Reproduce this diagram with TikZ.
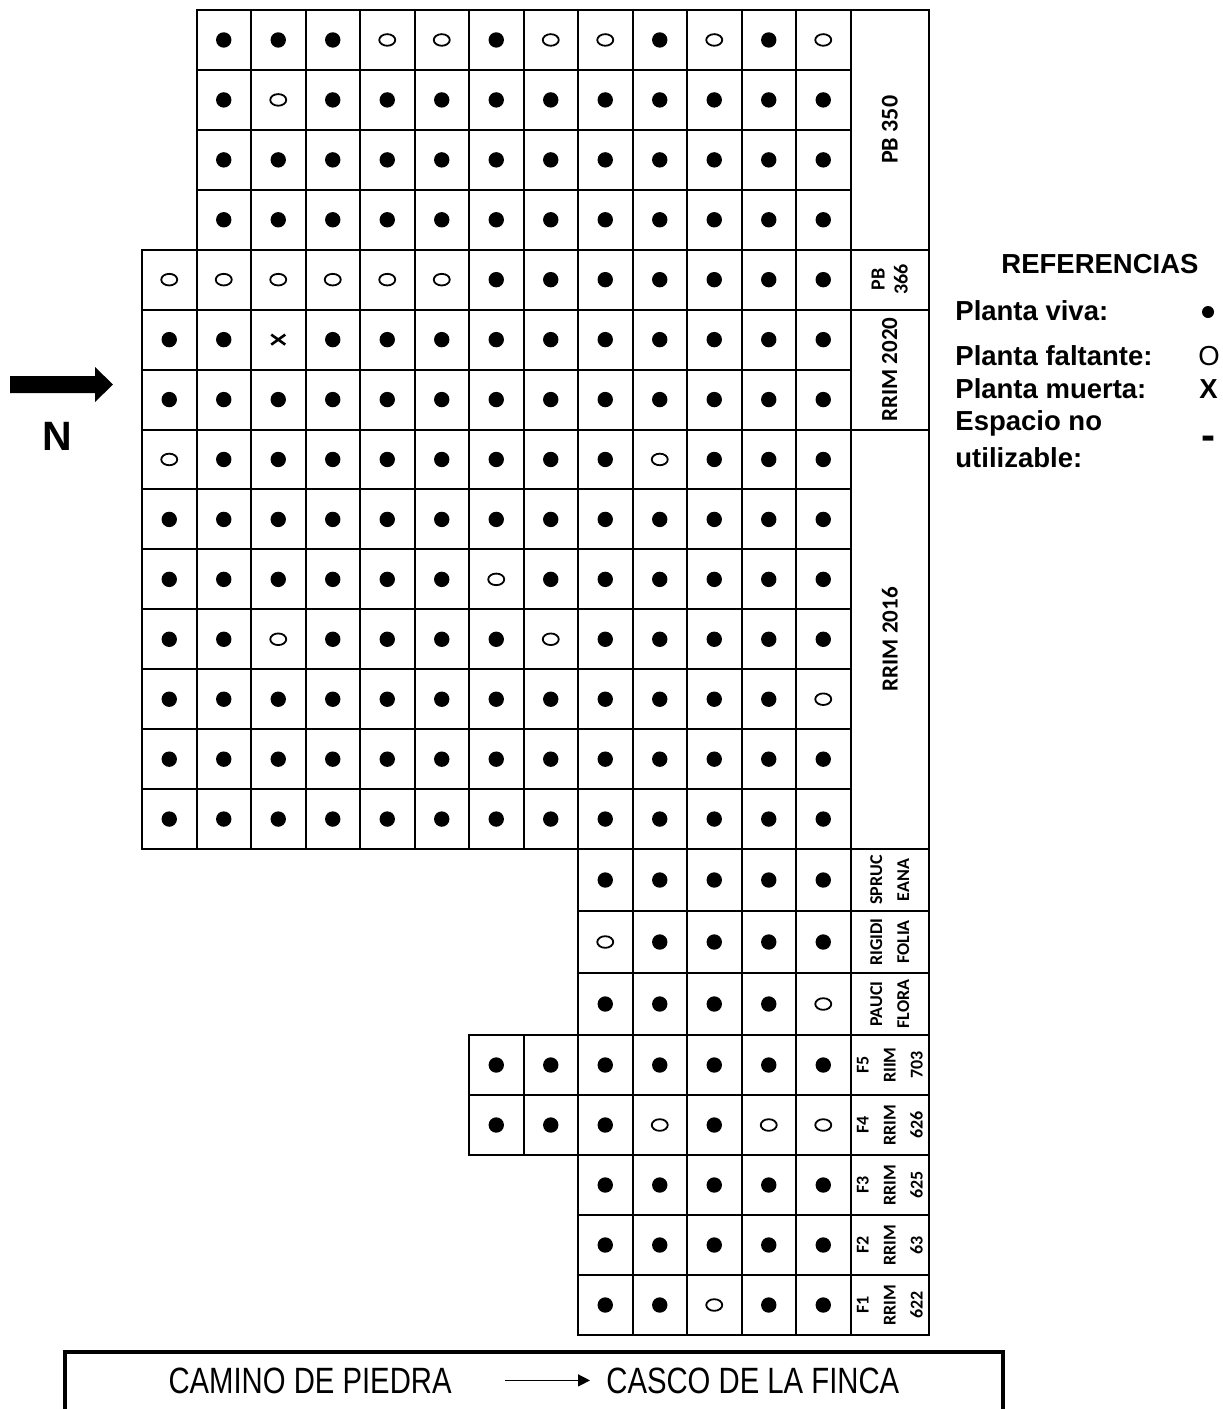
\documentclass[tikz,border=0pt]{standalone}
\usepackage{fontspec}
\setmainfont{Liberation Sans}
\newfontfamily\calibri{Carlito}
\newfontfamily\roadfont[FakeStretch=0.8]{Liberation Sans}
\usetikzlibrary{arrows.meta}

% one row of the plot: top, bottom, first column, plants
\newcommand{\plantrow}[4]{%
  \foreach \s [count=\c from #3] in {#4}{
    \draw[cell] ({142+54.5*\c},#1) rectangle ({196.5+54.5*\c},#2);
    \pic at ({169.25+54.5*\c},{(#1+#2)/2}) {\s};
  }}

\tikzset{
  cell/.style={line width=1pt},
  v/.pic={\fill (0,0) circle (7.7);},
  o/.pic={\draw[line width=0.9pt] (0,0) ellipse (8 and 5.8);},
  x/.pic={\draw[line width=1.3pt] (-7,-5) -- (7,5) (-7,5) -- (7,-5);},
  lab/.style={rotate=90, align=center, inner sep=0pt},
  clone/.style={lab, font=\calibri\bfseries\fontsize{9}{13.5}\selectfont},
  legend/.style={font=\bfseries\fontsize{13.75}{16}\selectfont, inner sep=0pt},
  road/.style={font=\roadfont\fontsize{18.3}{22}\selectfont, inner sep=0pt}
}

\begin{document}
\begin{tikzpicture}[x=0.5pt, y=-0.5pt]
    \useasboundingbox (0,0) rectangle (1222,1409);

    % Plot
    \plantrow{10}{69.9}{1}{v,v,v,o,o,v,o,o,v,o,v,o}
    \plantrow{69.9}{129.9}{1}{v,o,v,v,v,v,v,v,v,v,v,v}
    \plantrow{129.9}{189.8}{1}{v,v,v,v,v,v,v,v,v,v,v,v}
    \plantrow{189.8}{249.7}{1}{v,v,v,v,v,v,v,v,v,v,v,v}
    \plantrow{249.7}{309.6}{0}{o,o,o,o,o,o,v,v,v,v,v,v,v}
    \plantrow{309.6}{369.6}{0}{v,v,x,v,v,v,v,v,v,v,v,v,v}
    \plantrow{369.6}{429.5}{0}{v,v,v,v,v,v,v,v,v,v,v,v,v}
    \plantrow{429.5}{489.4}{0}{o,v,v,v,v,v,v,v,v,o,v,v,v}
    \plantrow{489.4}{549.4}{0}{v,v,v,v,v,v,v,v,v,v,v,v,v}
    \plantrow{549.4}{609.3}{0}{v,v,v,v,v,v,o,v,v,v,v,v,v}
    \plantrow{609.3}{669.2}{0}{v,v,o,v,v,v,v,o,v,v,v,v,v}
    \plantrow{669.2}{729.2}{0}{v,v,v,v,v,v,v,v,v,v,v,v,o}
    \plantrow{729.2}{789.1}{0}{v,v,v,v,v,v,v,v,v,v,v,v,v}
    \plantrow{789.1}{849}{0}{v,v,v,v,v,v,v,v,v,v,v,v,v}
    \plantrow{849}{911}{8}{v,v,v,v,v}
    \plantrow{911}{973}{8}{o,v,v,v,v}
    \plantrow{973}{1035}{8}{v,v,v,v,o}
    \plantrow{1035}{1095}{6}{v,v,v,v,v,v,v}
    \plantrow{1095}{1155}{6}{v,v,v,o,v,o,o}
    \plantrow{1155}{1215}{8}{v,v,v,v,v}
    \plantrow{1215}{1275}{8}{v,v,v,v,v}
    \plantrow{1275}{1335}{8}{v,v,o,v,v}

    % Clones
    \draw[cell] (850.5,10) rectangle (929,249.7);
    \draw[cell] (850.5,249.7) rectangle (929,309.6);
    \draw[cell] (850.5,309.6) rectangle (929,429.5);
    \draw[cell] (850.5,429.5) rectangle (929,849);
    \foreach \ya/\yb in {849/911, 911/973, 973/1035, 1035/1095, 1095/1155, 1155/1215, 1215/1275, 1275/1335}
      \draw[cell] (850.5,\ya) rectangle (929,\yb);

    \node[lab, font=\calibri\bfseries\fontsize{12}{14}\selectfont] (pb350) at (889.75,129.9) {PB 350};
    \node[lab, font=\calibri\bfseries\fontsize{10}{11.5}\selectfont] (pb366) at (889.75,279.6) {PB\\366};
    \node[lab, font=\calibri\bfseries\fontsize{11.5}{13}\selectfont] (rrim2020) at (889.75,369.6) {RRIM 2020};
    \node[lab, font=\calibri\bfseries\fontsize{11.5}{13}\selectfont] (rrim2016) at (889.75,639.2) {RRIM 2016};
    \node[clone] (spruceana) at (889.75,880) {SPRUC\\EANA};
    \node[clone] (rigidifolia) at (889.75,942) {RIGIDI\\FOLIA};
    \node[clone] (pauciflora) at (889.75,1004) {PAUCI\\FLORA};
    \node[clone] (f5) at (889.75,1065) {F5\\RIIM\\703};
    \node[clone] (f4) at (889.75,1125) {F4\\RRIM\\626};
    \node[clone] (f3) at (889.75,1185) {F3\\RRIM\\625};
    \node[clone] (f2) at (889.75,1245) {F2\\RRIM\\63};
    \node[clone] (f1) at (889.75,1305) {F1\\RRIM\\622};

    % North
    \fill (10,376) -- (95,376) -- (95,367) -- (113,384.5) -- (95,402) -- (95,393) -- (10,393) -- cycle;
    \node[font=\bfseries\fontsize{20.5}{24}\selectfont, inner sep=0pt] (norte) at (57,436) {N};

    % Legend
    \node[legend, anchor=base] (ref) at (1100,273) {REFERENCIAS};
    \node[legend, anchor=base west] (viva) at (955,320) {Planta viva:};
    \node[legend, anchor=base west] (falta) at (955,365) {Planta faltante:};
    \node[legend, anchor=base west] (muerta) at (955,398) {Planta muerta:};
    \node[legend, anchor=base west] (espacio) at (955,430) {Espacio no};
    \node[legend, anchor=base west] (util) at (955,467) {utilizable:};
    \fill (1208,312) circle (6);
    \node[font=\fontsize{13.75}{16}\selectfont, inner sep=0pt, anchor=base west] (symfalta) at (1198,365) {O};
    \node[legend, anchor=base west] (symmuerta) at (1199,398) {X};
    \node[font=\bfseries\fontsize{21}{24}\selectfont, inner sep=0pt] (symespacio) at (1208,443) {-};

    % Road
    \draw[line width=1.6pt] (65,1409) -- (65,1352) -- (1003,1352) -- (1003,1409);
    \node[road, anchor=base east] (camino) at (452,1393) {CAMINO DE PIEDRA};
    \node[road, anchor=base west] (casco) at (606,1393) {CASCO DE LA FINCA};
    \draw[line width=0.75pt, -{Triangle[length=6pt, width=6pt]}, shorten <=26.5pt, shorten >=8pt] (camino) -- (casco);
\end{tikzpicture}
\end{document}
